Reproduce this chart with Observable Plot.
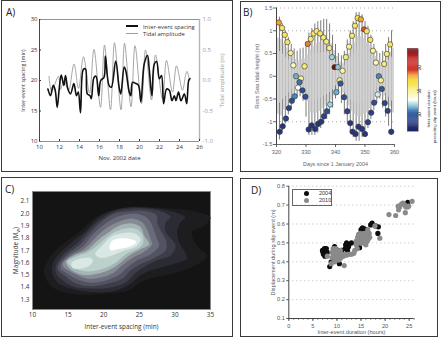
<!DOCTYPE html>
<html><head><meta charset="utf-8">
<script src="https://cdn.jsdelivr.net/npm/d3@7"></script>
<script src="https://cdn.jsdelivr.net/npm/@observablehq/plot@0.6"></script>
<style>
html,body{margin:0;padding:0;background:#fff;width:445px;height:341px;overflow:hidden}
#root{position:relative;width:445px;height:341px}
.p{position:absolute;left:0;top:0}
.b{position:absolute;border:1.4px solid #3a3a3a;box-sizing:border-box}
.t{position:absolute;font:10px "Open Sans",sans-serif;color:#222}
.leg{position:absolute;white-space:nowrap;line-height:1}
</style></head><body><div id="root"></div>
<script>
// Panel A
const spacingDay=[10.84,11.1,11.37,11.57,11.77,11.97,12.17,12.44,12.6,12.84,13.1,13.44,13.7,13.88,14.1,14.38,14.6,14.78,15.05,15.18,15.45,15.65,15.92,16.12,16.45,16.59,16.95,17.19,17.62,17.96,18.13,18.47,18.63,18.97,19.13,19.3,19.64,19.9,20.14,20.47,20.8,20.97,21.24,21.48,21.71,21.98,22.2,22.41,22.71,22.98,23.25,23.48,23.65,23.9,24.15,24.49,24.72,24.92,25.05];
const spacingMin=[18.6,17.5,19.2,18.4,15.6,18.6,20.9,19.2,20.8,18.6,17.8,19.5,17.5,18.1,14.7,21.8,21.9,17.8,17.5,17,20.5,20.7,17.5,20,20.5,24,19.2,18.9,23.2,18.9,17.8,22.2,21.6,18.1,17.5,19.7,19.5,19.2,16.5,22.7,24.1,21.9,17.5,22.7,23.1,20.3,20.8,16.2,18.6,18.4,16.7,17.5,16.7,18.1,16.7,17.8,16.2,20,20.3];
const tideDay=[10.95,11.2,11.45,11.9,12.1,12.45,12.9,13.45,13.9,14.4,15,15.45,16.1,16.5,17.1,17.5,18.15,18.5,19.15,19.55,20.2,20.6,21.2,21.6,22.3,22.7,23.3,23.7,24.3,24.6,24.75,25];
const tideAmp=[0.07,-0.18,-0.1,0.07,-0.15,0,-0.16,0.27,-0.13,0.39,-0.21,0.51,-0.44,0.58,-0.48,0.62,-0.48,0.61,-0.43,0.57,-0.38,0.5,-0.32,0.42,-0.3,0.33,-0.19,0.24,-0.16,0.08,0.15,0];
// Panel B
const highDay=[320.8,321.9,322.8,323.7,324.8,325.7,326.6,328.3,329.5,330.6,331.6,332.6,333.6,334.8,335.9,336.9,337.9,338.8,339.7,340.8,341.4,342.4,343.5,344.6,345.6,346.6,347.5,348.6,349.7,350.6,351.8,352.7,353.7,354.7,355.4,356.5,357.4,358.5];
const highH=[1.18,1.06,.91,.75,.51,.24,0,-.05,.22,.71,.82,.94,.99,.94,.85,.76,.62,.42,.2,.2,-.09,.12,.42,.65,.89,1.11,1.28,1.25,1.03,.99,.8,.56,.3,0,-.09,.27,.49,.7];
const highDur=[18,16,16,16,15,14,11.5,14.5,15.5,18.5,15.5,16,15.5,16,15.5,15.5,15,12,24,11.8,15,14.5,15.5,15,15.8,16,16.5,18,19,16,16,15,14,11,15,15.5,15.5,16];
const lowDay=[321.1,322.1,323.2,324.2,325.2,326.2,327.3,327.8,328.8,329.8,330.9,331.9,333.1,334.1,335.1,336.1,337.1,338.2,340.3,341.7,342.9,344,345,345.8,346.8,347.8,349,350,351,352.1,353.1,354.3,355.7,356.7,357.7,358.9];
const lowH=[-1.22,-1.1,-.93,-.7,-.54,-.44,-.25,-.13,-.31,-.45,-1.17,-1.08,-1.16,-1.05,-1,-.88,-.77,-.62,-.35,-.16,-.46,-.77,-1.03,-1.22,-1.27,-1.11,-1.16,-1.27,-1.01,-.8,-.58,-.4,-.28,-.59,-.76,-1.22];
const lowDur=[8,8,8.5,8.5,9,11,13,10.5,9,9,8,8,8,8,8,8.5,9,12,11.5,9.5,9,8.5,8,8,8,8,8,8,8.5,8.5,9,12.5,9.5,8.5,8.5,8];
const envDay=[320,321,322,323,324,325,326,327,328,329,330,331,332,333,334,335,336,337,338,339,340,341,342,343,344,345,346,347,348,349,350,351,352,353,354,355,356,357,358,359];
const envHigh=[1.35,1.3,1.15,1,.85,.7,.6,.55,.6,.62,.75,.95,1.05,1.15,1.2,1.22,1.25,1.25,1.15,.9,.7,.5,.45,.55,.8,1,1.2,1.4,1.4,1.35,1.2,1.1,.9,.7,.55,.5,.55,.7,.85,1];
const envLow=[-1.35,-1.4,-1.2,-1.05,-.85,-.7,-.55,-.45,-.45,-.55,-.9,-1.3,-1.3,-1.3,-1.25,-1.15,-1.05,-.95,-.85,-.7,-.5,-.4,-.6,-.85,-1.05,-1.25,-1.35,-1.43,-1.43,-1.35,-1.3,-1.15,-.95,-.75,-.6,-.5,-.7,-.9,-1.1,-1.3];
const durStops=[6.4,8,10.8,11.9,12.9,14.3,17.1,18.2,19.3,22,24];
const durColors=["#1b2468","#27377f","#3d77b0","#8fd0da","#ffffff","#fdf6a8","#f4dc35","#ef9a30","#d4372b","#c22a28","#6b1212"];
// Panel C: contour levels, outermost first; each level is a list of closed loops
const contourFills=["#1d1d20","#2b2b34","#3d3d4a","#525261","#6a6b7a","#858a93","#a3b5b5","#bcd0cc","#d9e8e4","#ffffff"];
const contourLevels=[
 [[[11.6,1.52],[11.9,1.59],[13,1.69],[14.9,1.78],[16.8,1.86],[18.6,1.96],[20.5,2.02],[22.9,2.04],[26.1,2.05],[29.9,2.04],[32.7,2.02],[35,1.97],[34.1,1.9],[32.4,1.85],[33.1,1.74],[34.5,1.66],[33.6,1.6],[31.3,1.54],[28.9,1.5],[27.1,1.48],[25.2,1.44],[23.3,1.37],[20.5,1.35],[17.2,1.34],[14.4,1.36],[12.6,1.41]]],
 [[[12.8,1.59],[13.7,1.67],[15.6,1.77],[17.5,1.86],[19.1,1.96],[21,2.02],[23.3,2.05],[26.1,2.05],[29.4,2.02],[31.5,1.97],[30.8,1.93],[30.3,1.85],[30.6,1.77],[31.7,1.64],[30.3,1.6],[28.5,1.57],[26.6,1.54],[25.2,1.5],[23.8,1.43],[21.4,1.37],[18.6,1.36],[15.4,1.39],[13.5,1.44],[12.8,1.51]]],
 [[[13.3,1.58],[14.2,1.66],[16.1,1.75],[17.7,1.85],[19.3,1.94],[21.2,2.01],[23.6,2.04],[26.1,2.04],[28.5,2.01],[29.4,1.97],[28.7,1.93],[28.7,1.85],[30.1,1.74],[29.4,1.66],[28,1.63],[26.1,1.58],[24.5,1.52],[23.1,1.44],[21,1.4],[18.2,1.39],[15.6,1.41],[14,1.47],[13.3,1.52]]],
 [[[13.6,1.58],[14.7,1.66],[16.5,1.74],[17.9,1.83],[19.6,1.93],[21.4,2],[23.8,2.02],[26.1,2.02],[27.5,1.98],[27.5,1.93],[28,1.86],[28.8,1.77],[28.7,1.7],[27.1,1.64],[25.2,1.59],[23.8,1.54],[22.6,1.47],[20.5,1.43],[17.9,1.41],[15.8,1.44],[14.4,1.5],[13.6,1.54]]],
 [[[14,1.59],[15.1,1.66],[17,1.73],[18.3,1.82],[19.8,1.9],[21.7,1.97],[24,2],[25.7,1.98],[26.6,1.93],[27.1,1.86],[27.5,1.79],[27.8,1.74],[26.6,1.67],[24.7,1.62],[23.3,1.56],[22.1,1.5],[20,1.45],[17.9,1.44],[16.1,1.47],[14.7,1.52],[14,1.55]]],
 [[[14.3,1.6],[15.5,1.66],[17.2,1.71],[18.6,1.79],[20.1,1.87],[21.9,1.93],[24,1.96],[25.4,1.93],[26.1,1.87],[26.6,1.79],[26.8,1.75],[25.7,1.69],[24,1.64],[22.6,1.58],[21.4,1.52],[19.6,1.48],[17.8,1.47],[16.3,1.5],[15,1.54],[14.3,1.57]]],
 [[[14.7,1.61],[15.8,1.66],[17.6,1.7],[19.1,1.78],[20.5,1.84],[22.1,1.9],[24,1.92],[25.2,1.89],[25.7,1.82],[26.4,1.75],[25.2,1.71],[23.6,1.66],[21.9,1.58],[20.7,1.54],[19.1,1.51],[17.5,1.5],[16.1,1.52],[15.1,1.56]]],
 [[[14.9,1.61],[16.1,1.65],[17.9,1.69],[19.3,1.75],[20.7,1.82],[22.4,1.87],[24.3,1.88],[25.2,1.85],[25.6,1.78],[25.2,1.73],[23.1,1.67],[21.4,1.59],[19.8,1.55],[17.7,1.53],[16.1,1.55],[15.2,1.58]]],
 [[[15.5,1.6],[16.5,1.63],[18.2,1.64],[18.5,1.61],[17.8,1.57],[16.5,1.55],[15.6,1.56]],
  [[18.8,1.67],[19.8,1.74],[21,1.81],[22.6,1.84],[24.3,1.84],[25.2,1.79],[24.5,1.73],[22.9,1.7],[21.2,1.66],[19.6,1.64]]],
 [[[20.8,1.73],[21.2,1.78],[22.4,1.8],[24,1.79],[24.6,1.77],[23.6,1.73],[21.9,1.71],[21,1.7]]]
];
// Panel D
const hours2004=[7,7.4,7.8,7.2,8,7.5,7.1,7.7,8.5,9.5,10.5,10.2,11,8.8,12,12.5,12,12.2,13,11.8,12.4,11.7,14.7,15,15.3,15.7,15.4,16,15.2,17,17.3,18,18.6,18.5,24.7,16.2];
const disp2004=[.46,.47,.47,.44,.45,.43,.45,.455,.375,.48,.39,.46,.46,.4,.5,.49,.47,.46,.5,.49,.48,.47,.475,.57,.58,.575,.555,.57,.56,.595,.605,.59,.585,.55,.715,.54];
const hours2010=[8,8.8,9,9.2,9.4,9.6,9.8,10,10.2,10.4,9.5,10,10.6,9.2,9.8,10.8,11,11.5,11.5,12.3,13,13.5,13.7,14,14,14.3,14.7,15,14.8,14.4,15.3,15.6,16,16.3,16,16.5,16.7,16.4,16.8,17.9,18.9,15,15.8,20.8,22.2,22.7,22.8,23.4,23.7,24.1,24.2,24.3,24.7,24.9,25.6,23,9.3,10.3,10.7,9.7,10.1,10.5,9,11.3,12,12.7,14.2,15.2,15.6,16.2,14.5,14.3];
const disp2010=[.43,.39,.42,.44,.46,.42,.44,.45,.43,.41,.4,.41,.44,.47,.47,.42,.44,.38,.44,.44,.44,.445,.46,.49,.51,.53,.52,.53,.55,.5,.5,.52,.53,.51,.49,.52,.55,.57,.53,.59,.525,.5,.545,.65,.645,.695,.675,.705,.71,.7,.66,.69,.69,.695,.72,.69,.43,.45,.46,.41,.42,.43,.45,.43,.435,.44,.47,.52,.55,.55,.545,.51];

const root=document.getElementById("root");
const sansA='"Open Sans",sans-serif', sansB='"Liberation Sans",sans-serif';
function place(svg){svg.classList.add("p");svg.style.left="0";svg.style.top="0";root.appendChild(svg);return svg;}
function box(l,t,r,b){const d=document.createElement("div");d.className="b";d.style.cssText=`left:${l}px;top:${t}px;width:${r-l}px;height:${b-t}px`;root.appendChild(d);}
function tag(s,x,y){const d=document.createElement("div");d.className="t";d.textContent=s;d.style.left=x+"px";d.style.top=y+"px";root.appendChild(d);}
function labelSize(svg,label,size){d3.select(svg).selectAll("text").filter(function(){return this.textContent===label}).style("font-size",size+"px");}
const st=(font,size)=>({background:"transparent",overflow:"visible",fontFamily:font,fontSize:size+"px"});

box(1,0,233,172);box(240,1,441,172);box(1,177,233,337);box(240,178,438,337);

// A: tide plot (right axis), then spacing plot on top
const W=445,H=341;
const dimA={width:W,height:H,marginLeft:39,marginRight:W-199,marginTop:19,marginBottom:H-141};
const a1=place(Plot.plot({...dimA,x:{domain:[10,26],axis:null},y:{domain:[-1,1]},style:st(sansA,6),marks:[
  Plot.axisY({anchor:"right",ticks:[-1,-.5,0,.5,1],tickFormat:d=>d.toFixed(1),tickSize:0,tickPadding:3,color:"#9a9a9a",label:"Tidal amplitude (m)",labelAnchor:"center",labelArrow:"none",labelOffset:24}),
  Plot.ruleX([26],{stroke:"#b5b5b5",strokeWidth:1.4}),
  Plot.line(tideDay.map((d,i)=>({d,a:tideAmp[i]})),{x:"d",y:"a",stroke:"#9c9c9c",strokeWidth:.9,curve:"catmull-rom"})
]}));
const a2=place(Plot.plot({...dimA,x:{domain:[10,26],label:null},y:{domain:[10,30]},style:st(sansA,6),marks:[
  Plot.axisX({ticks:d3.range(10,27,2),tickSize:-2,tickPadding:5,color:"#333",label:"Nov. 2002 date",labelAnchor:"center",labelArrow:"none",labelOffset:18}),
  Plot.axisY({ticks:[10,15,20,25,30],tickSize:-2,tickPadding:4,color:"#333",label:"Inter-event spacing (min)",labelAnchor:"center",labelArrow:"none",labelOffset:18}),
  Plot.ruleY([10,30],{stroke:"#777",strokeWidth:.8}),
  Plot.ruleX([10],{stroke:"#333",strokeWidth:.9}),
  Plot.line(spacingDay.map((d,i)=>({d,v:spacingMin[i]})),{x:"d",y:"v",stroke:"#111",strokeWidth:1.6,curve:"catmull-rom"})
]}));
labelSize(a2,"Inter-event spacing (min)",5.4);
tag("A)",6,5);
function legend(x,y,swW,swH,col,label,font,size){
  const s=document.createElement("div");s.style.cssText=`position:absolute;left:${x}px;top:${y-swH/2}px;width:${swW}px;height:${swH}px;background:${col}`;root.appendChild(s);
  const t=document.createElement("div");t.className="leg";t.textContent=label;t.style.cssText+=`left:${x+swW+5}px;top:${y-size*.55}px;font:${size}px ${font};color:#333`;root.appendChild(t);
}
legend(126,26,12,1.8,"#111","Inter-event spacing",sansA,5.8);
legend(126,33.5,12,.9,"#9c9c9c","Tidal amplitude",sansA,5.8);

// B
const dots=[...highDay.map((d,i)=>({d,h:highH[i],c:highDur[i]})),...lowDay.map((d,i)=>({d,h:lowH[i],c:lowDur[i]}))];
const colorB={type:"linear",domain:durStops,range:durColors,interpolate:"rgb"};
const envRows=envDay.map((d,i)=>({d,hi:envHigh[i],lo:envLow[i]}));
const b1=place(Plot.plot({width:W,height:H,marginLeft:276,marginRight:W-394,marginTop:7.5,marginBottom:H-144,
  x:{domain:[320,360],label:null},y:{domain:[-1.5,1.5]},color:colorB,style:st(sansB,5.8),marks:[
  Plot.ruleY([-1.5,-1,1,1.5],{stroke:"#999",strokeWidth:.8,strokeDasharray:"1 3"}),
  // full daily tidal range, with the faster mid-range part of each cycle drawn paler
  Plot.ruleX(envRows,{x:"d",y1:"lo",y2:"hi",stroke:"#7a7a7a",strokeWidth:1}),
  Plot.ruleX(envRows,{x:"d",y1:d=>d.lo*.42,y2:d=>d.hi*.42,stroke:"#c2c2c2",strokeWidth:1.1}),
  Plot.ruleX(envRows,{x:d=>d.d+.5,y1:d=>d.lo*.62,y2:d=>d.hi*.62,stroke:"#d2d2d2",strokeWidth:1.9}),
  Plot.axisX({ticks:d3.range(320,361,10),tickSize:3,tickPadding:2,color:"#666",label:"Days since 1 January 2004",labelAnchor:"center",labelArrow:"none",labelOffset:21}),
  Plot.axisY({ticks:[-1.5,-1,-.5,0,.5,1,1.5],tickFormat:d=>String(d),tickSize:3,tickPadding:1,color:"#666",label:"Ross Sea tidal height (m)",labelAnchor:"center",labelArrow:"none",labelOffset:22}),
  Plot.ruleX([320],{stroke:"#444",strokeWidth:1}),
  Plot.ruleY([-1.5],{stroke:"#444",strokeWidth:.8}),
  Plot.dot(dots,{x:"d",y:"h",r:2.7,fill:"c",stroke:"#333",strokeWidth:.6})
]}));
labelSize(b1,"Days since 1 January 2004",5.4);
// B: colour bar
place(Plot.plot({width:W,height:H,marginLeft:407,marginRight:W-418,marginTop:48.5,marginBottom:H-131,
  x:{axis:null,domain:[0,1]},y:{domain:[6.4,24]},color:colorB,style:st(sansB,4.8),marks:[
  Plot.rect(d3.range(6.4,24,.2),{x1:0,x2:1,y1:d=>d,y2:d=>d+.25,fill:d=>d}),
  Plot.frame({stroke:"#666",strokeWidth:.6}),
  Plot.axisY({anchor:"right",ticks:[10,15,20],tickSize:1.5,tickRotate:-90,tickPadding:1,color:"#444",label:null}),
  Plot.text(["Inter-event duration\npreceding slip event (hours)"],{frameAnchor:"right",rotate:-90,dx:13,fill:"#333",fontSize:4.3,lineHeight:1.4})
]}));
tag("B)",243,5);

// C
const loops=contourLevels.map(lvl=>lvl.flatMap((loop,j)=>loop.map(p=>({x:p[0],y:p[1],k:j}))));
const svgC=place(Plot.plot({width:W,height:H,marginLeft:32,marginRight:W-210,marginTop:191,marginBottom:H-309,
  x:{domain:[10,35],label:null},y:{domain:[1.22,2.18]},style:st(sansA,6.4),marks:[
  Plot.frame({fill:"#141414",stroke:"#8a8a8a",strokeWidth:.9}),
  ...contourLevels.map((lvl,i)=>Plot.line(loops[i],{x:"x",y:"y",z:"k",fill:contourFills[i],stroke:"none",curve:"catmull-rom-closed"})),
  Plot.axisX({ticks:[10,15,20,25,30,35],tickSize:0,tickPadding:3,color:"#333",label:"Inter-event spacing (min)",labelAnchor:"center",labelArrow:"none",labelOffset:19}),
  Plot.axisY({ticks:[1.3,1.4,1.5,1.6,1.7,1.8,1.9,2,2.1],tickFormat:d=>d.toFixed(1),tickSize:0,tickPadding:3,color:"#333",label:"Magnitude (Mw)",labelAnchor:"center",labelArrow:"none",labelOffset:19})
]}));
d3.select(svgC).selectAll("text").filter(function(){return this.textContent==="Magnitude (Mw)"}).each(function(){
  const t=d3.select(this);t.text("Magnitude (M");
  t.append("tspan").attr("dy","1.5").attr("font-size","4.6").text("w");
  t.append("tspan").attr("dy","-1.5").text(")");
});
tag("C)",5,182);

// D
const d04=hours2004.map((h,i)=>({h,m:disp2004[i]})), d10=hours2010.map((h,i)=>({h,m:disp2010[i]}));
place(Plot.plot({width:W,height:H,marginLeft:288.3,marginRight:W-413.5,marginTop:185.7,marginBottom:H-318,
  x:{domain:[0,26],label:null},y:{domain:[.1,.8]},style:st(sansB,5.6),marks:[
  Plot.ruleY([.2,.3,.4,.5,.6,.7,.8],{stroke:"#aaa",strokeWidth:.8,strokeDasharray:"1 3"}),
  Plot.axisX({ticks:d3.range(0,27,1),tickSize:1.5,tickFormat:()=>"",label:null,color:"#444"}),
  Plot.axisX({ticks:[0,5,10,15,20,25],tickSize:3,tickPadding:3,color:"#555",label:"Inter-event duration (hours)",labelAnchor:"center",labelArrow:"none",labelOffset:15}),
  Plot.axisY({ticks:[.1,.2,.3,.4,.5,.6,.7,.8],tickFormat:d=>d.toFixed(1),tickSize:2,tickPadding:2,color:"#555",label:"Displacement during slip event (m)",labelAnchor:"center",labelArrow:"none",labelOffset:18}),
  Plot.ruleX([0],{stroke:"#444",strokeWidth:1}),
  Plot.ruleY([.1],{stroke:"#444",strokeWidth:1}),
  Plot.dot(d04,{x:"h",y:"m",r:2.6,fill:"#0d0d0d"}),
  Plot.dot(d10,{x:"h",y:"m",r:2.6,fill:"#8a8a8a"})
]}));
tag("D)",251,183);
// D legend
const lg=document.createElement("div");lg.style.cssText="position:absolute;left:292px;top:189px;width:40px;height:17px;border:.8px solid #666;box-sizing:border-box";root.appendChild(lg);
[["2004","#0d0d0d",193],["2010","#8a8a8a",200]].forEach(([s,c,y])=>{
  const o=document.createElement("div");o.style.cssText=`position:absolute;left:303.5px;top:${y-2.5}px;width:5px;height:5px;border-radius:50%;background:${c}`;root.appendChild(o);
  const t=document.createElement("div");t.className="leg";t.textContent=s;t.style.cssText+=`left:319px;top:${y-2.8}px;font:5.5px ${sansB};color:#333`;root.appendChild(t);
});
</script></body></html>
